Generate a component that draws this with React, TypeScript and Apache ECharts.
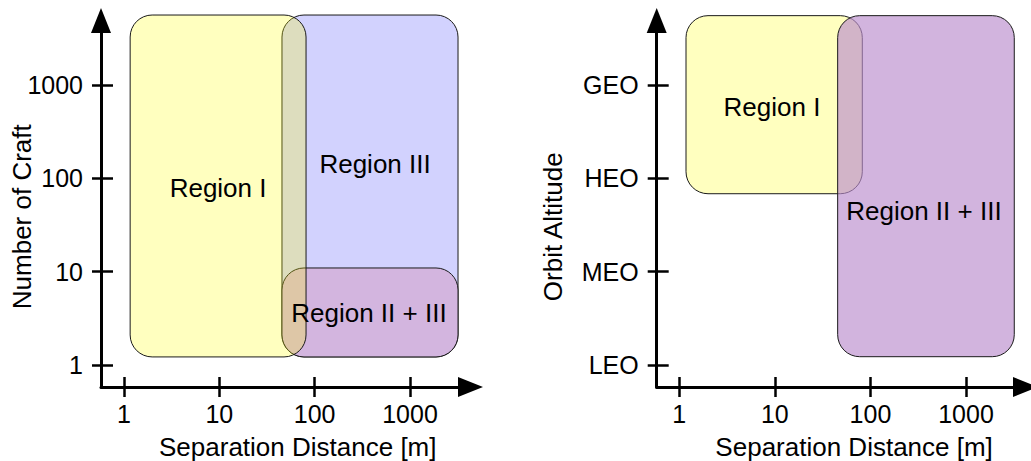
import React, { useEffect, useRef } from 'react';
import * as echarts from 'echarts';

// ---- Tick values / labels ----
const sepTicks = [1, 10, 100, 1000];
const craftTicks = [1, 10, 100, 1000];
const orbitTicks = [0, 1, 2, 3];
const orbitLabels = ['LEO', 'MEO', 'HEO', 'GEO'];

// ---- Left panel: Number of Craft vs Separation Distance ----
const craftRegionNames = ['Region III', 'Region II + III', 'Region I'];
const craftSepFrom = [45.4, 45.4, 1.16];
const craftSepTo = [3190, 3190, 81.2];
const craftCountFrom = [1.22, 1.22, 1.22];
const craftCountTo = [5620, 10.95, 5620];
const craftLabelSep = [430, 371, 9.7];
const craftLabelCount = [142, 3.6, 79];

// ---- Right panel: Orbit Altitude vs Separation Distance ----
const orbitRegionNames = ['Region I', 'Region II + III'];
const orbitSepFrom = [1.175, 45.4];
const orbitSepTo = [82.2, 3200];
const orbitAltFrom = [1.835, 0.089];
const orbitAltTo = [3.743, 3.743];
const orbitLabelSep = [9.33, 363];
const orbitLabelAlt = [2.764, 1.65];

// ---- Axis ranges ----
const leftSepRange = [0.5737, 4312];
const craftRange = [0.581, 4909];
const rightSepRange = [0.58, 4194];
const orbitRange = [-0.2357, 3.691];

const FONT = '"Liberation Sans", Arial, Helvetica, sans-serif';

const leftFills: Record<string, string> = {
  'Region III': '#d2d2fe',
  'Region II + III': '#d3b5df',
  'Region I': 'rgba(255,255,0,0.25)',
};
const rightFills: Record<string, string> = {
  'Region I': 'rgba(255,255,0,0.25)',
  'Region II + III': 'rgba(187,141,205,0.66)',
};

function makeRender(names: string[], fills: Record<string, string>) {
  return (params: any, api: any) => {
    const p0 = api.coord([api.value(0), api.value(3)]);
    const p1 = api.coord([api.value(1), api.value(2)]);
    const lp = api.coord([api.value(4), api.value(5)]);
    const name = names[params.dataIndex];
    return {
      type: 'group',
      children: [
        {
          type: 'rect',
          shape: { x: p0[0], y: p0[1], width: p1[0] - p0[0], height: p1[1] - p0[1], r: 22 },
          style: { fill: fills[name], stroke: '#1a1a1a', lineWidth: 1 },
          z2: 1,
        },
        {
          type: 'text',
          x: lp[0],
          y: lp[1],
          style: {
            text: name,
            fill: '#000',
            fontSize: 26,
            fontFamily: FONT,
            align: 'center',
            verticalAlign: 'middle',
          },
          z2: 50,
        },
      ],
    };
  };
}

function mainX(grid: number, range: number[], namePad: number) {
  return {
    type: 'log',
    gridIndex: grid,
    position: 'bottom',
    min: range[0],
    max: range[1],
    axisLine: {
      show: true,
      onZero: false,
      symbol: ['none', 'triangle'],
      symbolSize: [20, 25],
      lineStyle: { color: '#000', width: 3 },
    },
    axisTick: { show: true, inside: false, length: 10, customValues: sepTicks, lineStyle: { color: '#000', width: 2.5 } },
    axisLabel: {
      show: true,
      margin: 14,
      fontSize: 25,
      color: '#000',
      fontFamily: FONT,
      customValues: sepTicks,
      formatter: (v: number) => String(Math.round(v)),
    },
    splitLine: { show: false },
    minorTick: { show: false },
    name: 'Separation Distance [m]',
    nameLocation: 'middle',
    nameGap: 47,
    nameMoveOverlap: false,
    nameTextStyle: { fontSize: 26, color: '#000', fontFamily: FONT, padding: [0, 0, 0, namePad] },
  };
}

function innerX(grid: number, range: number[]) {
  return {
    type: 'log',
    gridIndex: grid,
    position: 'bottom',
    min: range[0],
    max: range[1],
    axisLine: { show: false, onZero: false },
    axisTick: { show: true, inside: true, length: 10, customValues: sepTicks, lineStyle: { color: '#000', width: 2.5 } },
    axisLabel: { show: false },
    splitLine: { show: false },
  };
}

export default function App() {
  const ref = useRef<HTMLDivElement>(null);
  useEffect(() => {
    if (!ref.current) return;
    const chart = echarts.init(ref.current, undefined, { renderer: 'svg' });

    const craftData = craftRegionNames.map((_, i) => [
      craftSepFrom[i], craftSepTo[i], craftCountFrom[i], craftCountTo[i], craftLabelSep[i], craftLabelCount[i],
    ]);
    const orbitData = orbitRegionNames.map((_, i) => [
      orbitSepFrom[i], orbitSepTo[i], orbitAltFrom[i], orbitAltTo[i], orbitLabelSep[i], orbitLabelAlt[i],
    ]);

    const yLine = {
      show: true,
      onZero: false,
      symbol: ['none', 'triangle'],
      symbolSize: [20, 25],
      lineStyle: { color: '#000', width: 3 },
    };

    chart.setOption({
      animation: false,
      backgroundColor: '#fff',
      grid: [
        { left: 101, top: 20.5, width: 369.5, height: 366.5, outerBoundsMode: 'none' },
        { left: 656.7, top: 20.5, width: 368.8, height: 366.5, outerBoundsMode: 'none' },
      ],
      xAxis: [
        mainX(0, leftSepRange, 24),
        innerX(0, leftSepRange),
        mainX(1, rightSepRange, 26),
        innerX(1, rightSepRange),
      ],
      yAxis: [
        {
          type: 'log',
          gridIndex: 0,
          position: 'left',
          min: craftRange[0],
          max: craftRange[1],
          axisLine: yLine,
          axisTick: { show: true, inside: false, length: 9, customValues: craftTicks, lineStyle: { color: '#000', width: 2.5 } },
          axisLabel: {
            show: true,
            margin: 18,
            fontSize: 25,
            color: '#000',
            fontFamily: FONT,
            customValues: craftTicks,
            formatter: (v: number) => String(Math.round(v)),
          },
          splitLine: { show: false },
          name: 'Number of Craft',
          nameLocation: 'middle',
          nameGap: 66,
          nameRotate: 90,
          nameMoveOverlap: false,
          nameTextStyle: { fontSize: 26, color: '#000', fontFamily: FONT, padding: [0, 26, 0, 0] },
        },
        {
          type: 'log',
          gridIndex: 0,
          position: 'left',
          min: craftRange[0],
          max: craftRange[1],
          axisLine: { show: false, onZero: false },
          axisTick: { show: true, inside: true, length: 12, customValues: craftTicks, lineStyle: { color: '#000', width: 2.5 } },
          axisLabel: { show: false },
          splitLine: { show: false },
        },
        {
          type: 'value',
          gridIndex: 1,
          position: 'left',
          min: orbitRange[0],
          max: orbitRange[1],
          axisLine: yLine,
          axisTick: { show: true, inside: false, length: 9, customValues: orbitTicks, lineStyle: { color: '#000', width: 2.5 } },
          axisLabel: {
            show: true,
            margin: 18,
            fontSize: 25,
            color: '#000',
            fontFamily: FONT,
            customValues: orbitTicks,
            formatter: (v: number) => orbitLabels[Math.round(v)] ?? '',
          },
          splitLine: { show: false },
          name: 'Orbit Altitude',
          nameLocation: 'middle',
          nameGap: 91,
          nameRotate: 90,
          nameMoveOverlap: false,
          nameTextStyle: { fontSize: 26, color: '#000', fontFamily: FONT, padding: [0, 46, 0, 0] },
        },
        {
          type: 'value',
          gridIndex: 1,
          position: 'left',
          min: orbitRange[0],
          max: orbitRange[1],
          axisLine: { show: false, onZero: false },
          axisTick: { show: true, inside: true, length: 12, customValues: orbitTicks, lineStyle: { color: '#000', width: 2.5 } },
          axisLabel: { show: false },
          splitLine: { show: false },
        },
      ],
      series: [
        {
          type: 'custom',
          xAxisIndex: 0,
          yAxisIndex: 0,
          clip: false,
          encode: { x: [0, 1, 4], y: [2, 3, 5] },
          renderItem: makeRender(craftRegionNames, leftFills),
          data: craftData,
        },
        {
          type: 'custom',
          xAxisIndex: 2,
          yAxisIndex: 2,
          clip: false,
          encode: { x: [0, 1, 4], y: [2, 3, 5] },
          renderItem: makeRender(orbitRegionNames, rightFills),
          data: orbitData,
        },
      ],
    });
    return () => chart.dispose();
  }, []);

  return (
    <div
      ref={ref}
      style={{ position: 'fixed', left: 0, top: 0, width: 1031, height: 461, background: '#fff' }}
    />
  );
}
